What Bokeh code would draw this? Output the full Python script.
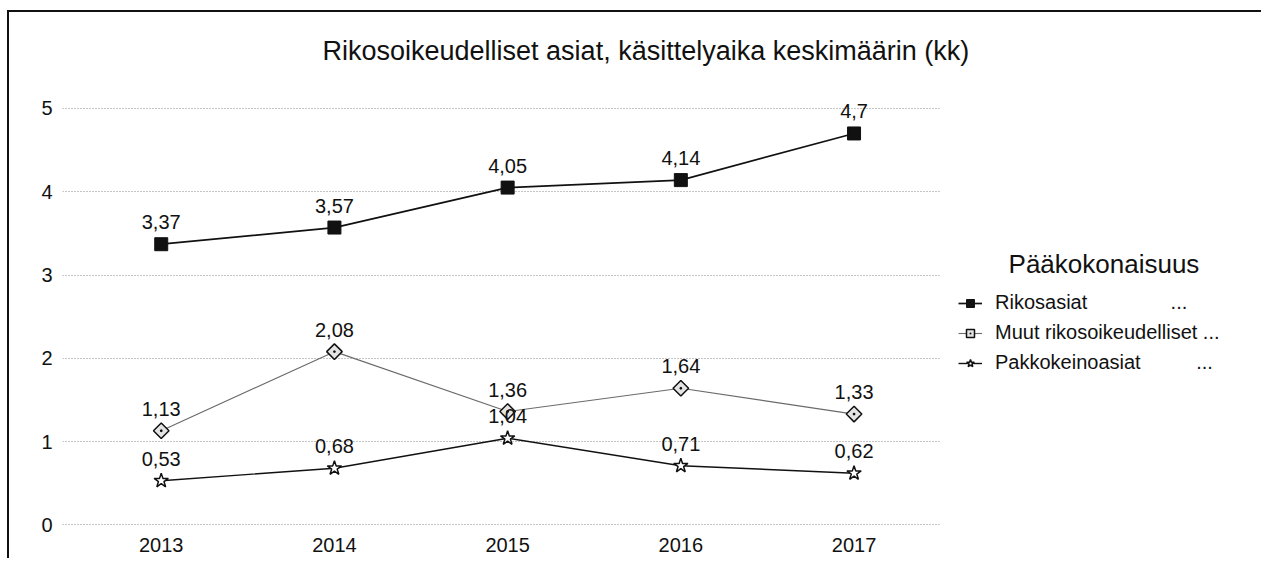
import math
from bokeh.plotting import figure
from bokeh.models import (Range1d, FixedTicker, LabelSet, ColumnDataSource,
                          Legend, LegendItem, Grid)
from bokeh.core.properties import value
from bokeh.embed import file_html
from bokeh.resources import INLINE

years = [2013, 2014, 2015, 2016, 2017]
rikosasiat = [3.37, 3.57, 4.05, 4.14, 4.7]
muut = [1.13, 2.08, 1.36, 1.64, 1.33]
pakko = [0.53, 0.68, 1.04, 0.71, 0.62]
y_ticks = [0, 1, 2, 3, 4, 5]
series_names = ["Rikosasiat", "Muut rikosoikeudelliset", "Pakkokeinoasiat"]
title_text = "Rikosoikeudelliset asiat, käsittelyaika keskimäärin (kk)"
legend_title = "Pääkokonaisuus"

FONT = "Liberation Sans"
NB = "\u00a0"

# plotted x-span (2012.43 .. 2017.5) keeps ~173 px per year; the frame continues
# to the right to host the legend
X0, X1, XEND = 2012.43, 2017.5, 2019.364

p = figure(width=1254, height=548, output_backend="svg", toolbar_location=None,
           x_range=Range1d(X0, XEND), y_range=Range1d(-0.02, 5.3),
           min_border_left=53, min_border_right=0, min_border_top=71,
           min_border_bottom=34)
p.styles = {"margin-left": "7px", "margin-top": "10px",
            "border-top": "2px solid #111", "border-left": "2px solid #111"}
p.outline_line_color = None
p.background_fill_color = "white"

# title
p.title.text = title_text
p.title.align = "left"
p.title.offset = 260
p.title.standoff = 36
p.title.text_font = FONT
p.title.text_font_size = "27px"
p.title.text_font_style = "normal"
p.title.text_color = "#111"

# axes
p.xaxis.ticker = FixedTicker(ticks=years)
p.yaxis.ticker = FixedTicker(ticks=y_ticks)
for ax in (p.xaxis[0], p.yaxis[0]):
    ax.axis_line_color = None
    ax.major_tick_line_color = None
    ax.minor_tick_line_color = None
    ax.major_tick_out = 0
    ax.major_tick_in = 0
    ax.major_label_text_font = FONT
    ax.major_label_text_font_size = "20px"
    ax.major_label_text_color = "#111"
p.xaxis.major_label_standoff = 11
p.yaxis.major_label_standoff = 10

p.xgrid.grid_line_color = None
p.ygrid.grid_line_color = "#8a8a8a"
p.ygrid.grid_line_dash = "1 2"
p.ygrid.grid_line_width = 1
if "cross_bounds" in Grid.properties():
    p.ygrid.cross_bounds = (X0, X1)


def fmt(v):
    return str(v).replace(".", ",")


src_r = ColumnDataSource(dict(x=years, y=rikosasiat, t=[fmt(v) for v in rikosasiat]))
src_m = ColumnDataSource(dict(x=years, y=muut, t=[fmt(v) for v in muut]))
src_p = ColumnDataSource(dict(x=years, y=pakko, t=[fmt(v) for v in pakko]))

lr = p.line("x", "y", source=src_r, line_color="#111", line_width=1.7)
sr = p.scatter("x", "y", source=src_r, marker="square", size=13,
               fill_color="#111", line_color="#111", line_width=1)
lm = p.line("x", "y", source=src_m, line_color="#6a6a6a", line_width=1.1)
sm = p.scatter("x", "y", source=src_m, marker="square_dot", size=11, angle=math.pi / 4,
               fill_color="#e4e4e4", line_color="#111", line_width=1.5)
lp = p.line("x", "y", source=src_p, line_color="#111", line_width=1.4)
sp = p.scatter("x", "y", source=src_p, marker="star", size=15,
               fill_color="white", line_color="#111", line_width=1.5)

for src in (src_r, src_m, src_p):
    p.add_layout(LabelSet(x="x", y="y", text="t", source=src, y_offset=15,
                          text_align="center", text_baseline="alphabetic",
                          text_font=value(FONT), text_font_size="20px",
                          text_color="#111"))

legend = Legend(items=[
    LegendItem(label=series_names[0] + NB * 15 + "...", renderers=[lr, sr]),
    LegendItem(label=series_names[1] + " ...", renderers=[lm, sm]),
    LegendItem(label=series_names[2] + NB * 10 + "...", renderers=[lp, sp]),
], location=(896, 152))
legend.title = NB * 7 + legend_title
legend.title_text_font = FONT
legend.title_text_font_size = "26px"
legend.title_text_font_style = "normal"
legend.title_text_color = "#111"
legend.title_standoff = 11
legend.padding = 0
legend.margin = 0
legend.spacing = 7
legend.glyph_width = 24
legend.glyph_height = 20
legend.label_height = 20
legend.label_standoff = 13
legend.border_line_color = None
legend.background_fill_alpha = 0
legend.label_text_font = FONT
legend.label_text_font_size = "20px"
legend.label_text_color = "#111"
p.add_layout(legend, "center")

open("out.html", "w").write(file_html(p, INLINE))
